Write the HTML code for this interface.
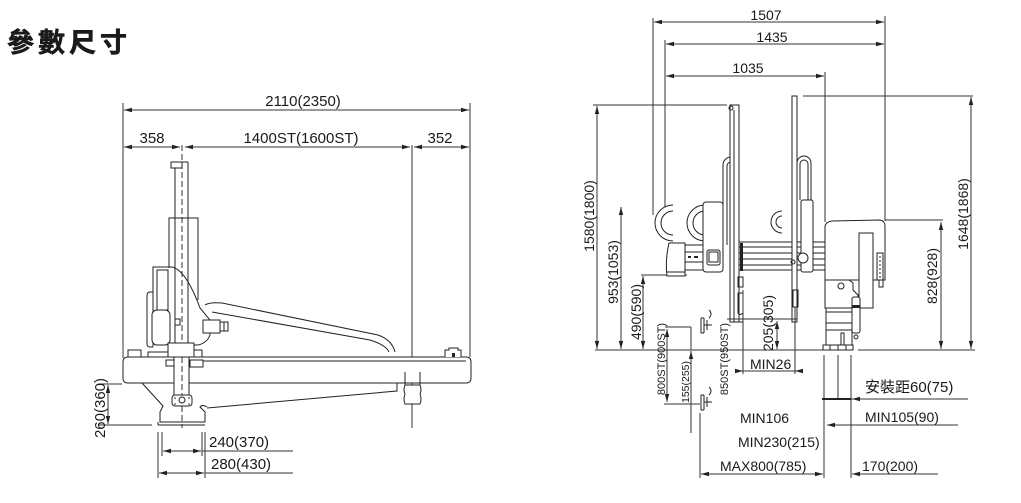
<!DOCTYPE html>
<html><head><meta charset="utf-8"><style>
html,body{margin:0;padding:0;background:#fff;}
svg{display:block;}
text{font-family:"Liberation Sans","Noto Sans CJK TC",sans-serif;fill:#1a1a1a;}
.d{stroke:#333;stroke-width:1;fill:none;}
.m{stroke:#222;stroke-width:1;fill:none;}
.w{stroke:#222;stroke-width:1;fill:#fff;}
</style></head><body>
<svg width="1021" height="503" viewBox="0 0 1021 503" xmlns="http://www.w3.org/2000/svg">
<defs>
<marker id="a" viewBox="0 0 8 6" refX="8" refY="3" markerWidth="8" markerHeight="6" markerUnits="userSpaceOnUse" orient="auto-start-reverse"><path d="M0,0.8 L8,3 L0,5.2z" fill="#222"/></marker>
</defs>

<!-- Title -->
<text x="7" y="52" font-size="27" font-weight="bold" letter-spacing="4" stroke="#1a1a1a" stroke-width="0.6">參數尺寸</text>

<!-- ================= LEFT DIAGRAM ================= -->
<line class="d" x1="123" y1="103" x2="123" y2="358"/>
<line class="d" x1="470" y1="103" x2="470" y2="357"/>
<line class="d" x1="412" y1="145" x2="412" y2="428"/>
<line class="d" x1="182" y1="145" x2="182" y2="428" stroke-dasharray="6,3"/>
<line class="d" x1="124" y1="110" x2="469" y2="110" marker-start="url(#a)" marker-end="url(#a)"/>
<text x="303" y="106" font-size="15" text-anchor="middle">2110(2350)</text>
<line class="d" x1="124" y1="147" x2="180" y2="147" marker-start="url(#a)" marker-end="url(#a)"/>
<line class="d" x1="185" y1="147" x2="410" y2="147" marker-start="url(#a)" marker-end="url(#a)"/>
<line class="d" x1="414" y1="147" x2="469" y2="147" marker-start="url(#a)" marker-end="url(#a)"/>
<text x="152" y="143" font-size="15" text-anchor="middle">358</text>
<text x="301" y="143" font-size="15" text-anchor="middle">1400ST(1600ST)</text>
<text x="440" y="143" font-size="15" text-anchor="middle">352</text>

<!-- column -->
<line class="m" x1="175" y1="162" x2="175" y2="345"/>
<line class="m" x1="188" y1="162" x2="188" y2="345"/>
<line class="m" x1="175" y1="162" x2="188" y2="162"/>
<rect class="w" x="171" y="162" width="11" height="6"/>
<path class="m" d="M169,268 V218 H198 V300"/>
<!-- carriage -->
<path class="m" d="M153,347 V267 H172"/>
<rect class="m" x="157" y="270" width="11" height="40"/>
<path class="m" d="M153,292 H150 Q147,292 147,296 V344 Q147,347 150,347 H153"/>
<rect class="w" x="152" y="310" width="18" height="35" rx="5"/>
<path class="m" d="M172,267 Q186,270 200,308 L210,320 V335 Q207,343 198,345 H170"/>
<rect class="m" x="175" y="319" width="5" height="6"/>
<rect class="w" x="203" y="320" width="17" height="13"/>
<rect class="w" x="220" y="322" width="8" height="9"/>
<line class="m" x1="224" y1="322" x2="224" y2="331"/>
<!-- hose -->
<path class="m" d="M205,305 Q210,302 222,303 L378,335 Q392,340 395,352"/>
<path class="m" d="M212,312 L370,340 Q386,345 389,352"/>

<!-- beam -->
<path class="w" d="M128,357 H466 Q471,357 471,362 V378 Q471,383 466,383 H128 Q123,383 123,378 V362 Q123,357 128,357 Z"/>
<line class="m" x1="190" y1="361" x2="466" y2="361"/>
<rect class="w" x="128" y="350" width="13" height="7"/>
<rect class="w" x="148" y="352" width="20" height="5"/>
<rect class="w" x="168" y="343" width="26" height="14"/>
<rect class="w" x="194" y="350" width="8" height="7"/>
<rect class="w" x="166" y="360" width="9" height="6"/>
<rect class="w" x="190" y="360" width="13" height="7"/>
<path class="w" d="M445,357 V350 H449 V348 H458 V350 H461 V357"/>
<rect x="452" y="353" width="3" height="4" fill="#222"/>
<rect class="w" x="174" y="357" width="15" height="38"/>
<line class="d" x1="182" y1="357" x2="182" y2="395" stroke-dasharray="6,3"/>
<rect class="w" x="172" y="395" width="20" height="11" rx="3"/>
<circle class="m" cx="182" cy="400" r="3"/>
<circle cx="175" cy="398" r="0.8" fill="#222"/><circle cx="189" cy="398" r="0.8" fill="#222"/>
<circle cx="175" cy="404" r="0.8" fill="#222"/><circle cx="189" cy="404" r="0.8" fill="#222"/>
<path class="m" d="M142,383 L163,406 L160,412 V422 H205 V412 L200,407 Q202,404 207,407"/>
<line class="m" x1="158" y1="425" x2="205" y2="425"/>
<line class="m" x1="158" y1="422" x2="158" y2="425"/>
<path class="m" d="M207,408 L397,391 V383"/>
<line class="m" x1="405" y1="372" x2="405" y2="385"/>
<line class="m" x1="420" y1="372" x2="420" y2="385"/>
<path class="w" d="M405,385 H420 Q422,390 420,394 Q422,399 420,404 H405 Q403,399 405,394 Q403,390 405,385 Z"/>

<!-- 260(360) -->
<line class="d" x1="98" y1="384" x2="122" y2="384"/>
<line class="d" x1="98" y1="425" x2="152" y2="425"/>
<line class="d" x1="108" y1="385" x2="108" y2="424" marker-start="url(#a)" marker-end="url(#a)"/>
<text x="105" y="408" font-size="15" text-anchor="middle" transform="rotate(-90 105 408)">260(360)</text>
<line class="d" x1="162" y1="432" x2="162" y2="456"/>
<line class="d" x1="202" y1="432" x2="202" y2="456"/>
<line class="d" x1="158" y1="432" x2="158" y2="478"/>
<line class="d" x1="205" y1="432" x2="205" y2="478"/>
<line class="d" x1="163" y1="451" x2="201" y2="451" marker-start="url(#a)" marker-end="url(#a)"/>
<line class="d" x1="202" y1="451" x2="293" y2="451"/>
<line class="d" x1="159" y1="473" x2="204" y2="473" marker-start="url(#a)" marker-end="url(#a)"/>
<line class="d" x1="205" y1="473" x2="293" y2="473"/>
<text x="209" y="447" font-size="15">240(370)</text>
<text x="211" y="469" font-size="15">280(430)</text>

<!-- ================= RIGHT DIAGRAM ================= -->
<line class="d" x1="653" y1="18" x2="653" y2="215"/>
<line class="d" x1="665" y1="40" x2="665" y2="207"/>
<line class="d" x1="885" y1="16" x2="885" y2="221"/>
<line class="d" x1="825" y1="72" x2="825" y2="222"/>
<line class="d" x1="654" y1="22" x2="884" y2="22" marker-start="url(#a)" marker-end="url(#a)"/>
<line class="d" x1="666" y1="44" x2="884" y2="44" marker-start="url(#a)" marker-end="url(#a)"/>
<line class="d" x1="666" y1="76" x2="824" y2="76" marker-start="url(#a)" marker-end="url(#a)"/>
<text x="766" y="20" font-size="14" text-anchor="middle">1507</text>
<text x="772" y="42" font-size="14" text-anchor="middle">1435</text>
<text x="748" y="73" font-size="14" text-anchor="middle">1035</text>

<line class="d" x1="593" y1="105" x2="727" y2="105"/>
<line class="d" x1="803" y1="96" x2="973" y2="96"/>
<line class="d" x1="597" y1="106" x2="597" y2="349" marker-start="url(#a)" marker-end="url(#a)"/>
<text x="594" y="216" font-size="14" text-anchor="middle" transform="rotate(-90 594 216)">1580(1800)</text>
<line class="d" x1="621" y1="207" x2="621" y2="349" marker-start="url(#a)" marker-end="url(#a)"/>
<text x="618" y="272" font-size="14" text-anchor="middle" transform="rotate(-90 618 272)">953(1053)</text>
<line class="d" x1="641" y1="275" x2="687" y2="275"/>
<line class="d" x1="643" y1="276" x2="643" y2="349" marker-start="url(#a)" marker-end="url(#a)"/>
<text x="641" y="312" font-size="14" text-anchor="middle" transform="rotate(-90 641 312)">490(590)</text>
<line class="d" x1="595" y1="350" x2="823" y2="350"/>
<line class="d" x1="858" y1="350" x2="975" y2="350"/>
<line class="d" x1="885" y1="220" x2="943" y2="220"/>
<line class="d" x1="941" y1="222" x2="941" y2="349" marker-start="url(#a)" marker-end="url(#a)"/>
<text x="937" y="276" font-size="14" text-anchor="middle" transform="rotate(-90 937 276)">828(928)</text>
<line class="d" x1="971" y1="97" x2="971" y2="349" marker-start="url(#a)" marker-end="url(#a)"/>
<text x="968" y="214" font-size="14" text-anchor="middle" transform="rotate(-90 968 214)">1648(1868)</text>

<!-- left gripper assembly -->
<path class="m" d="M673,205 A18,18 0 0 0 673,241"/>
<path class="m" d="M673,211 A12,12 0 0 0 673,235"/>
<path class="m" d="M705,205 A18,18 0 0 0 705,241"/>
<path class="m" d="M705,211 A12,12 0 0 0 705,235"/>
<path class="w" d="M669,243 H685 V276 H667 Q665,260 669,243 Z"/>
<line class="m" x1="667" y1="272" x2="685" y2="272"/>
<line class="m" x1="685" y1="245" x2="703" y2="245"/>
<line class="m" x1="685" y1="252" x2="703" y2="252"/>
<line class="m" x1="685" y1="262" x2="703" y2="262"/>
<line class="m" x1="685" y1="270" x2="703" y2="270"/>
<rect x="688" y="256" width="3" height="2" fill="#222"/><rect x="694" y="256" width="4" height="2" fill="#222"/>
<rect class="w" x="703" y="202" width="20" height="70" rx="3"/>
<rect class="w" x="707" y="250" width="13" height="15" rx="2"/>
<rect class="m" x="709" y="252" width="9" height="10"/>
<path class="w" d="M723,245 V165 A8,8 0 0 1 739,165 V245"/>
<path class="m" d="M727,245 V166 A4,4 0 0 1 735,166"/>
<line class="m" x1="739" y1="242" x2="825" y2="242"/>
<line class="m" x1="739" y1="247" x2="825" y2="247"/>
<line class="m" x1="739" y1="253" x2="825" y2="253"/>
<line class="m" x1="739" y1="259" x2="825" y2="259"/>
<line class="m" x1="739" y1="265" x2="825" y2="265"/>
<line class="m" x1="739" y1="270" x2="825" y2="270"/>
<rect x="740" y="243" width="3" height="28" fill="#222"/>
<rect class="w" x="730" y="105" width="9" height="217"/>
<line class="m" x1="734" y1="110" x2="734" y2="322"/>
<circle class="m" cx="731" cy="108" r="2"/>
<line class="m" x1="739" y1="322" x2="743" y2="322"/>
<rect class="m" x="738" y="277" width="5" height="10"/>
<path class="m" d="M738,293 H743 V313 Q740,316 738,313 Z"/>
<line class="d" x1="743" y1="290" x2="743" y2="374"/>
<path class="m" d="M782,211 A11,11 0 0 0 782,233"/>
<path class="m" d="M782,216 A6,6 0 0 0 782,228"/>
<rect class="w" x="792" y="96" width="5" height="226"/>
<path class="w" d="M797,200 V163 A7,7 0 0 1 811,163 V200"/>
<path class="m" d="M800,200 V164 A4,4 0 0 1 808,164 V200"/>
<rect class="w" x="801" y="200" width="12" height="72" rx="2"/>
<circle class="w" cx="803" cy="258" r="5"/>
<circle class="m" cx="793" cy="262" r="2"/>
<rect class="m" x="793" y="290" width="5" height="17"/>
<line class="d" x1="795" y1="307" x2="795" y2="374"/>

<!-- right box -->
<path class="w" d="M825,226 Q826,222 832,221 L880,220 Q885,221 885,226 V280 H825 Z"/>
<rect class="w" x="859" y="233" width="14" height="75"/>
<rect class="m" x="877" y="253" width="6" height="27"/>
<line class="m" x1="880" y1="256" x2="880" y2="278" stroke-dasharray="2,2"/>
<rect class="m" x="879" y="280" width="4" height="7"/>
<path class="w" d="M825,280 H849 L853,283 V290 L858,295 V308 H825 Z"/>
<circle class="m" cx="841" cy="286" r="3"/>
<rect class="w" x="826" y="308" width="26" height="39"/>
<line class="m" x1="826" y1="312" x2="852" y2="312"/>
<line class="m" x1="826" y1="323" x2="852" y2="323"/>
<line class="m" x1="826" y1="330" x2="852" y2="330"/>
<rect class="m" x="841" y="333" width="3" height="12"/>
<rect class="w" x="852" y="297" width="8" height="36" rx="2"/>
<rect x="852" y="305" width="8" height="3" fill="#222"/>
<circle class="m" cx="856" cy="337" r="2"/>
<rect class="w" x="823" y="345" width="30" height="5"/>
<line class="m" x1="830" y1="345" x2="830" y2="350"/>
<line class="m" x1="838" y1="345" x2="838" y2="350"/>
<line class="m" x1="846" y1="345" x2="846" y2="350"/>
<line class="d" x1="824" y1="355" x2="824" y2="478"/>
<line class="d" x1="838" y1="355" x2="838" y2="400"/>
<line class="d" x1="851" y1="355" x2="851" y2="478"/>

<!-- bottom right dims -->
<line class="d" x1="822" y1="399" x2="968" y2="399"/>
<line x1="822" y1="399" x2="851" y2="399" stroke="#222" stroke-width="2"/>
<line class="d" x1="860" y1="399" x2="852" y2="399" marker-end="url(#a)"/>
<text x="865" y="392" font-size="15">安裝距60(75)</text>
<line class="d" x1="958" y1="425" x2="827" y2="425" marker-end="url(#a)"/>
<text x="865" y="422" font-size="14">MIN105(90)</text>
<line class="d" x1="938" y1="474" x2="852" y2="474" marker-end="url(#a)"/>
<text x="862" y="471" font-size="14">170(200)</text>
<line class="d" x1="700" y1="413" x2="700" y2="478"/>
<line class="d" x1="701" y1="474" x2="823" y2="474" marker-start="url(#a)" marker-end="url(#a)"/>
<text x="720" y="471" font-size="14">MAX800(785)</text>
<text x="738" y="447" font-size="14">MIN230(215)</text>
<text x="740" y="423" font-size="14">MIN106</text>
<line class="d" x1="737" y1="371" x2="802" y2="371"/>
<line class="d" x1="736" y1="371" x2="743" y2="371" marker-end="url(#a)"/>
<line class="d" x1="803" y1="371" x2="795" y2="371" marker-end="url(#a)"/>
<text x="750" y="369" font-size="14">MIN26</text>
<line class="d" x1="727" y1="319" x2="797" y2="319"/>
<line class="d" x1="777" y1="321" x2="777" y2="349" marker-start="url(#a)" marker-end="url(#a)"/>
<text x="773" y="323" font-size="14" text-anchor="middle" transform="rotate(-90 773 323)">205(305)</text>
<line class="d" x1="665" y1="327" x2="691" y2="327"/>
<line class="d" x1="691" y1="327" x2="691" y2="350"/>
<line class="d" x1="664" y1="404" x2="700" y2="404"/>
<line class="d" x1="667" y1="329" x2="667" y2="402" marker-start="url(#a)" marker-end="url(#a)"/>
<text x="665" y="359" font-size="11" text-anchor="middle" transform="rotate(-90 665 359)">800ST(900ST)</text>
<line class="d" x1="691" y1="433" x2="691" y2="351" marker-end="url(#a)"/>
<text x="689" y="382" font-size="10.5" text-anchor="middle" transform="rotate(-90 689 382)">155(255)</text>
<text x="728" y="359" font-size="11" text-anchor="middle" transform="rotate(-90 728 359)">850ST(950ST)</text>
<g class="m">
<path d="M701,318 V333 M704,318 V333 M701,318 H704 M701,333 H704 M704,325 H712 M707,320 V330 M709,310 Q713,314 709,318"/>
<path d="M701,395 V410 M704,395 V410 M701,395 H704 M701,410 H704 M704,402 H712 M707,397 V407 M709,387 Q713,391 709,395"/>
</g>
</svg>
</body></html>
